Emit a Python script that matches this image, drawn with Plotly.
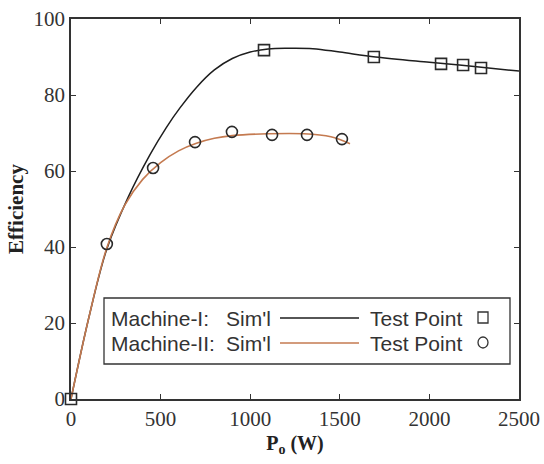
import plotly.graph_objects as go

# Machine-I: simulated efficiency curve and measured test points
sim1_p = [0, 100, 200, 318, 441, 530, 608, 700, 800, 900, 1000, 1100, 1200, 1350, 1500, 1700, 2000, 2250, 2500]
sim1_eff = [0, 21.5, 39.5, 53, 64.3, 71.3, 76.6, 82, 86.6, 89.6, 91.3, 92.1, 92.3, 92.2, 91.3, 90, 88.6, 87.5, 86.3]
test1_p = [0, 1077, 1690, 2065, 2188, 2288]
test1_eff = [0, 91.8, 90, 88.2, 87.9, 87.1]

# Machine-II: simulated efficiency curve and measured test points
sim2_p = [0, 100, 200, 300, 400, 500, 600, 700, 800, 900, 1100, 1300, 1450, 1557]
sim2_eff = [0, 21.5, 39.8, 51, 57.8, 62.2, 65.3, 67.3, 68.6, 69.3, 69.8, 69.8, 69.0, 67.2]
test2_p = [200, 458, 692, 898, 1122, 1317, 1512]
test2_eff = [40.8, 60.8, 67.6, 70.3, 69.5, 69.5, 68.4]

x_ticks = [0, 500, 1000, 1500, 2000, 2500]
y_ticks = [0, 20, 40, 60, 80, 100]

BLACK = "#1e1e1e"
BROWN = "#c47a50"
MARK = "#2a2a2a"

W, H = 544, 464
ML, MR, MT, MB = 71, 25, 19, 65
PW, PH = W - ML - MR, H - MT - MB


def px(x):
    return (x - ML) / PW


def py(y):
    return (H - MB - y) / PH


fig = go.Figure()
fig.add_trace(go.Scatter(x=sim1_p, y=sim1_eff, mode="lines",
                         line=dict(color=BLACK, width=1.5, shape="spline", smoothing=1.0),
                         showlegend=False))
fig.add_trace(go.Scatter(x=sim2_p, y=sim2_eff, mode="lines",
                         line=dict(color=BROWN, width=1.6, shape="spline", smoothing=1.0),
                         showlegend=False))
fig.add_trace(go.Scatter(x=test1_p, y=test1_eff, mode="markers",
                         marker=dict(symbol="square-open", size=11, color=MARK,
                                     line=dict(width=1.6, color=MARK)),
                         showlegend=False, cliponaxis=False))
fig.add_trace(go.Scatter(x=test2_p, y=test2_eff, mode="markers",
                         marker=dict(symbol="circle-open", size=11, color=MARK,
                                     line=dict(width=1.6, color=MARK)),
                         showlegend=False, cliponaxis=False))

tick_font = dict(family="Liberation Serif", size=21, color="#333")
axis_common = dict(showline=True, linecolor="#333", linewidth=1.5, mirror="ticks",
                   ticks="inside", ticklen=5, tickwidth=1.2, tickcolor="#333",
                   showgrid=False, zeroline=False, tickfont=tick_font, automargin=False)

fig.update_xaxes(range=[0, 2500], tickvals=x_ticks, ticktext=[str(v) for v in x_ticks],
                 title=dict(text="<b>P<sub>o</sub> (W)</b>",
                            font=dict(family="Liberation Serif", size=20, color="#222"),
                            standoff=6),
                 **axis_common)
fig.update_yaxes(range=[0, 100], tickvals=y_ticks, ticktext=[str(v) for v in y_ticks],
                 title=dict(text="<b>Efficiency</b>",
                            font=dict(family="Liberation Serif", size=21, color="#222"),
                            standoff=4),
                 **axis_common)

# Legend box drawn in paper space
shapes = [dict(type="rect", xref="paper", yref="paper",
               x0=px(104), x1=px(510), y0=py(364), y1=py(298),
               line=dict(color="#333", width=1.3), fillcolor="white", layer="above")]
rows = [(318, "Machine-I:", BLACK, "square"), (343, "Machine-II:", BROWN, "circle")]
annotations = []
leg_font = dict(family="Liberation Sans", size=21, color="#333")
for yrow, name, col, sym in rows:
    annotations.append(dict(text=name, x=px(109), y=py(yrow), xref="paper", yref="paper",
                            xanchor="left", yanchor="middle", showarrow=False, font=leg_font))
    annotations.append(dict(text="Sim'l", x=px(224), y=py(yrow), xref="paper", yref="paper",
                            xanchor="left", yanchor="middle", showarrow=False, font=leg_font))
    annotations.append(dict(text="Test Point", x=px(368), y=py(yrow), xref="paper", yref="paper",
                            xanchor="left", yanchor="middle", showarrow=False, font=leg_font))
    shapes.append(dict(type="line", xref="paper", yref="paper",
                       x0=px(280), x1=px(359), y0=py(yrow), y1=py(yrow),
                       line=dict(color=col, width=1.6), layer="above"))
    shapes.append(dict(type="rect" if sym == "square" else "circle", xref="paper", yref="paper",
                       x0=px(478), x1=px(488), y0=py(yrow + 5), y1=py(yrow - 6),
                       line=dict(color="#333", width=1.3), layer="above"))

fig.update_layout(width=W, height=H, margin=dict(l=ML, r=MR, t=MT, b=MB, autoexpand=False),
                  plot_bgcolor="white", paper_bgcolor="white",
                  shapes=shapes, annotations=annotations, showlegend=False)

fig.write_html("out.html")
